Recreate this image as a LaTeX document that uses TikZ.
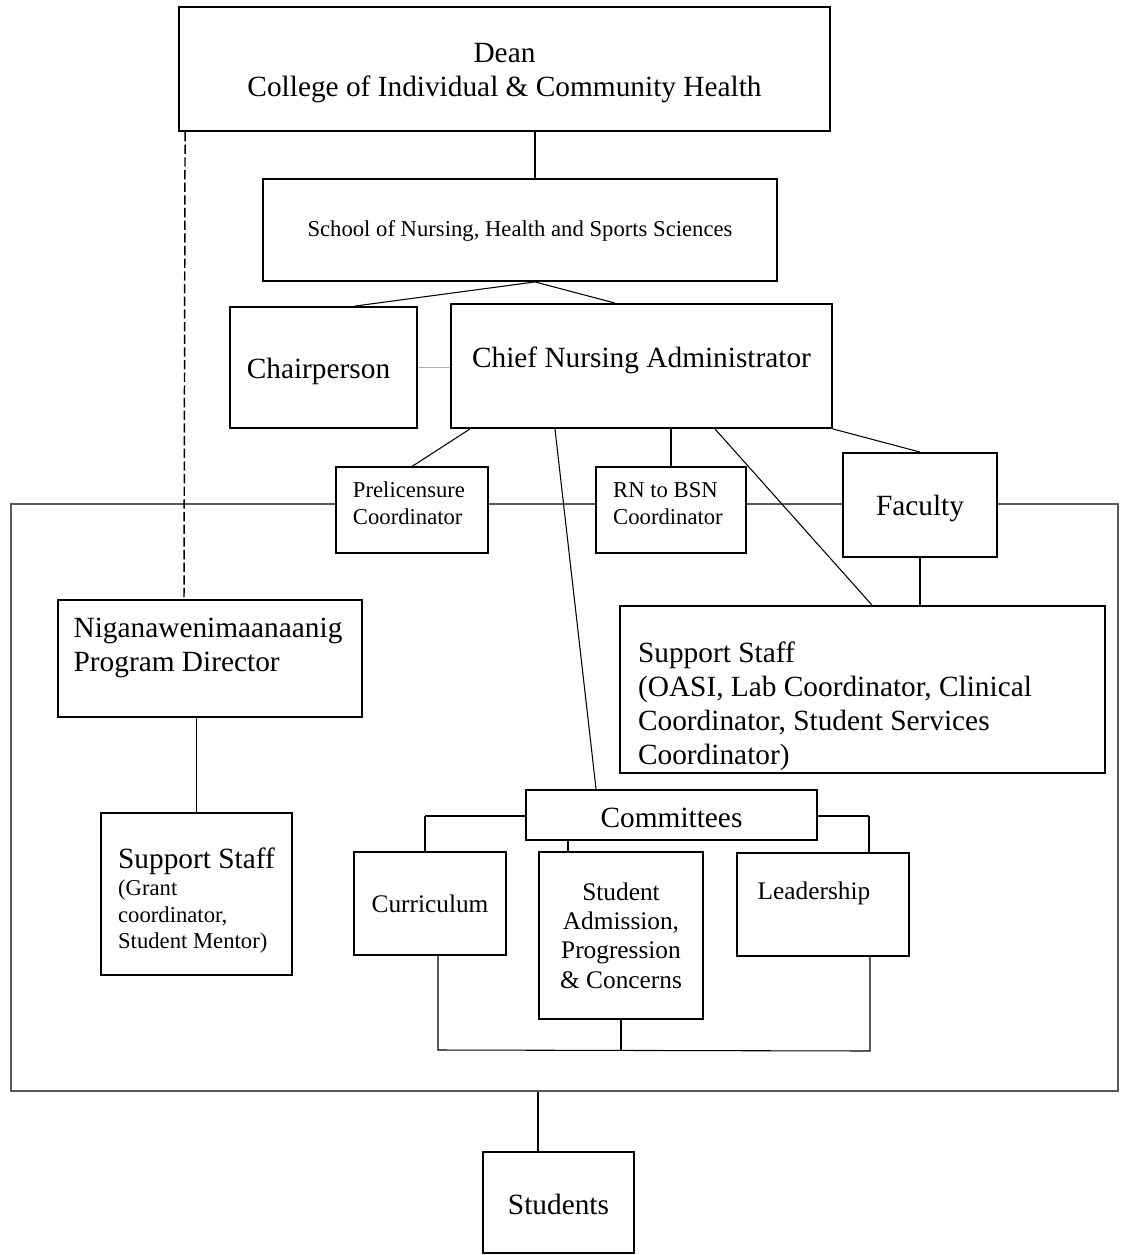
\documentclass[tikz,border=0pt]{standalone}
\usepackage{fontspec}
\setmainfont{Liberation Serif}
\newcommand\fbig{\fontsize{22}{25.5}\selectfont}
\newcommand\fmid{\fontsize{19}{22}\selectfont}
\newcommand\fsml{\fontsize{17}{20}\selectfont}
\tikzset{
  box/.style 2 args={draw, fill=white, line width=1.4pt, inner sep=0pt,
    minimum width=#1*0.75pt, minimum height=#2*0.75pt},
  thinbox/.style 2 args={box={#1}{#2}, line width=0.8pt},
  bigtext/.style={font=\fbig, align=left},
  midtext/.style={font=\fmid, align=center},
  smalltext/.style={font=\fsml, align=left},
  link/.style={line width=0.8pt},
}

\begin{document}
\begin{tikzpicture}[x=0.75pt, y=-0.75pt]
    \useasboundingbox (0,0) rectangle (1120,1255);
    \node[draw=black!65, line width=0.8pt, minimum width=1107*0.75pt, minimum height=587*0.75pt] (frame) at (564.5,797.5) {};
    \node[box={651}{124}, label={[bigtext, align=center, yshift=-3.4pt]center:{Dean\\College of Individual \& Community Health}}] (dean) at (504.5,69) {};
    \node[box={514}{102}, label={[smalltext, yshift=-0.75pt]center:{School of Nursing, Health and Sports Sciences}}] (school) at (520,230) {};
    \node[box={187}{121}, label={[bigtext, xshift=-3.75pt, yshift=-3pt]center:{Chairperson}}] (chair) at (323.5,367.5) {};
    \node[box={381}{124}, label={[bigtext, yshift=4pt]center:{Chief Nursing Administrator}}] (chief) at (641.5,366) {};
    \node[thinbox={152}{86}, label={[smalltext, xshift=-2.25pt, yshift=5pt]center:{Prelicensure\\Coordinator}}] (prelic) at (412,510) {};
    \node[thinbox={150}{86}, label={[smalltext, xshift=-2.25pt, yshift=5pt]center:{RN to BSN\\Coordinator}}] (rnbsn) at (671,510) {};
    \node[box={154}{104}, label={[bigtext, yshift=-2.25pt]center:{Faculty}}] (faculty) at (920,505) {};
    \node[box={304}{117}, label={[bigtext, xshift=-1.5pt, yshift=7.75pt]center:{Niganawenimaanaanig\\Program Director}}] (nigan) at (210,658.5) {};
    \node[box={191}{162}, line width=1pt, label={[smalltext, yshift=-5.25pt]center:{{\fbig Support Staff}\\(Grant\\coordinator,\\Student Mentor)}}] (grant) at (196.5,894) {};
    \node[box={485}{167}, label={[bigtext, xshift=-20.6pt, yshift=-12.75pt]center:{Support Staff\\(OASI, Lab Coordinator, Clinical\\Coordinator, Student Services\\Coordinator)}}] (oasi) at (862.5,689.5) {};
    \node[box={291}{50}, label={[bigtext, yshift=-2.25pt]center:{Committees}}] (comm) at (671.5,815) {};
    \node[box={152}{103}, label={[midtext]center:{Curriculum}}] (curr) at (430,903.5) {};
    \node[box={164}{167}, label={[midtext]center:{Student\\Admission,\\Progression\\\& Concerns}}] (sap) at (621,935.5) {};
    \node[box={172}{103}, label={[midtext, xshift=-6.75pt, yshift=8.25pt]center:{Leadership}}] (lead) at (823,904.5) {};
    \node[box={151}{101}, label={[bigtext, yshift=-1.5pt]center:{Students}}] (students) at (558.5,1202.5) {};

    \draw[link] (school.north) ++(15,0) coordinate (s1) -- (s1 |- dean.south);
    \draw[link] (school.south) ++(15,0) coordinate (s2) -- ([xshift=23.6pt]chair.north);
    \draw[link] (s2) -- ([xshift=-19.9pt]chief.north);
    \draw[line width=1.2pt, black!30] (chair.east) -- (chair.east -| chief.west);
    \draw[link] ([xshift=-128.6pt]chief.south) -- (prelic.north);
    \draw[link] (rnbsn.north) -- (rnbsn.north |- chief.south);
    \draw[link] (chief.south east) -- (faculty.north);
    \draw[link] ([xshift=55.1pt]chief.south) -- ([xshift=7.1pt]oasi.north);
    \draw[link] ([xshift=-64.9pt]chief.south) -- ([xshift=-56.6pt]comm.north);
    \draw[link] (faculty.south) -- (faculty.south |- oasi.north);
    \draw[line width=1.1pt, dash pattern=on 7pt off 2.5pt] ([xshift=5.25pt]dean.south west) -- ([xshift=-19.5pt]nigan.north);
    \draw[link] (grant.north) -- (grant.north |- nigan.south);
    \coordinate (cl) at (425,816);
    \coordinate (cr) at (869,816);
    \draw[line width=1.8pt] (cl) -- (cl -| comm.west);
    \draw[line width=2.2pt] (cr) -- (cr -| comm.east);
    \draw[link] (cl) -- (cl |- curr.north);
    \draw[link] (cr) -- (cr |- lead.north);
    \draw[link] (comm.south) ++(-103.5,0) coordinate (c1) -- (c1 |- sap.north);
    \coordinate (jl) at (438,1050);
    \coordinate (jr) at (870,1051);
    \draw[link] (jl |- curr.south) -- (jl) -- (jr) -- (jr |- lead.south);
    \draw[link] (sap.south) -- (sap.south |- jl);
    \draw[link] (students.north) ++(-20.5,0) coordinate (s3) -- (s3 |- frame.south);
\end{tikzpicture}
\end{document}
